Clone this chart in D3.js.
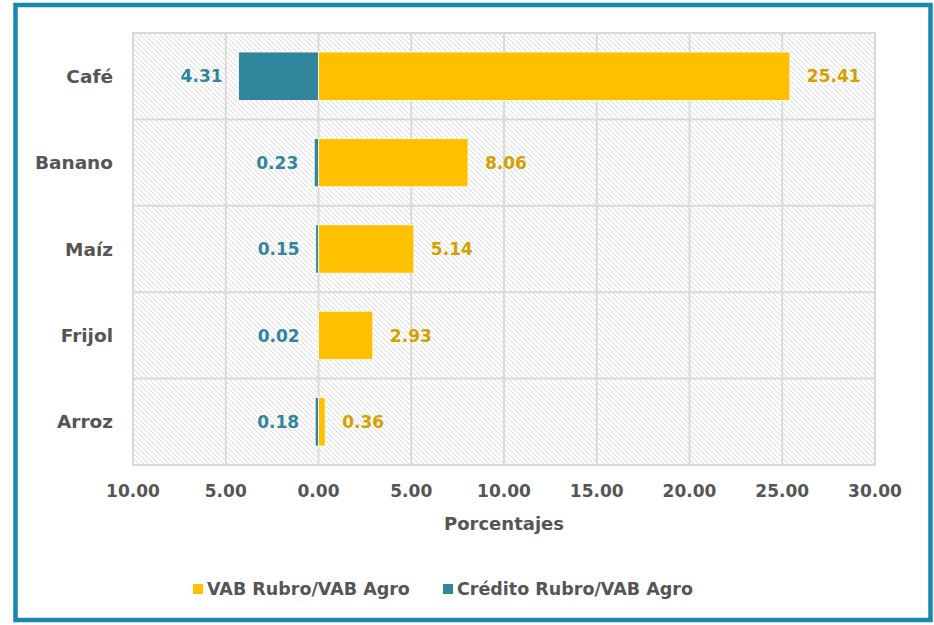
<!DOCTYPE html>
<html>
<head>
<meta charset="utf-8">
<script src="https://cdn.jsdelivr.net/npm/d3@7"></script>
<style>
  body { margin: 0; background: #fff; }
  text { font-family: "DejaVu Sans", Verdana, sans-serif; font-weight: bold; }
</style>
</head>
<body>
<div id="chart"></div>
<script>
const categories = ["Café", "Banano", "Maíz", "Frijol", "Arroz"];
const vabValues = [25.41, 8.06, 5.14, 2.93, 0.36];
const creditValues = [4.31, 0.23, 0.15, 0.02, 0.18];
const xTicks = [-10, -5, 0, 5, 10, 15, 20, 25, 30];
const seriesNames = ["VAB Rubro/VAB Agro", "Crédito Rubro/VAB Agro"];

const W = 934, H = 625;
const margin = {top: 33, right: 59, bottom: 160, left: 133};
const width = W - margin.left - margin.right;
const height = H - margin.top - margin.bottom;

const gold = "#ffc000", teal = "#31859c";
const goldText = "#d4a000", grey = "#555555";

const svg = d3.select("#chart").append("svg")
    .attr("width", W)
    .attr("height", H);

// hatch pattern for plot background
const defs = svg.append("defs");
defs.append("pattern")
    .attr("id", "hatch")
    .attr("patternUnits", "userSpaceOnUse")
    .attr("width", 5)
    .attr("height", 5)
    .append("path")
    .attr("d", "M-1,-1 L6,6 M-1,4 L1,6 M4,-1 L6,1")
    .attr("stroke", "#d6d6d6")
    .attr("stroke-width", 0.9);

// outer frame
svg.append("rect")
    .attr("x", 15.5).attr("y", 5)
    .attr("width", 915).attr("height", 615)
    .attr("fill", "none")
    .attr("stroke", "#1a87b0")
    .attr("stroke-width", 4.5);

const g = svg.append("g")
    .attr("transform", "translate(" + margin.left + "," + margin.top + ")");

const x = d3.scaleLinear().domain([-10, 30]).range([0, width]);
const y = d3.scaleBand().domain(categories).range([0, height]).paddingInner(0.44).paddingOuter(0.22);
const band = d3.scaleBand().domain(categories).range([0, height]);

g.append("rect")
    .attr("width", width).attr("height", height)
    .attr("fill", "url(#hatch)");

// grid
g.selectAll(".gx").data(xTicks).enter().append("line")
    .attr("x1", d => x(d)).attr("x2", d => x(d))
    .attr("y1", 0).attr("y2", height)
    .attr("stroke", "#d9d9d9").attr("stroke-width", 2);

g.selectAll(".gy").data(categories.slice(1)).enter().append("line")
    .attr("x1", 0).attr("x2", width)
    .attr("y1", d => band(d)).attr("y2", d => band(d))
    .attr("stroke", "#d9d9d9").attr("stroke-width", 2);

g.append("rect")
    .attr("width", width).attr("height", height)
    .attr("fill", "none")
    .attr("stroke", "#d9d9d9").attr("stroke-width", 2);

// bars
g.selectAll(".vab").data(categories).enter().append("rect")
    .attr("x", x(0))
    .attr("y", d => y(d))
    .attr("width", (d, i) => x(vabValues[i]) - x(0))
    .attr("height", y.bandwidth())
    .attr("fill", gold)
    .attr("stroke", "#fff").attr("stroke-width", 0.8);

g.selectAll(".cred").data(categories).enter().append("rect")
    .attr("x", (d, i) => x(-creditValues[i]))
    .attr("y", d => y(d))
    .attr("width", (d, i) => x(0) - x(-creditValues[i]))
    .attr("height", y.bandwidth())
    .attr("fill", teal)
    .attr("stroke", "#fff").attr("stroke-width", 0.8);

// data labels
g.selectAll(".lv").data(categories).enter().append("text")
    .attr("x", (d, i) => x(vabValues[i]) + 17)
    .attr("y", d => y(d) + y.bandwidth() / 2)
    .attr("dy", "0.36em")
    .attr("fill", goldText)
    .style("font-size", "17px")
    .text((d, i) => vabValues[i].toFixed(2));

g.selectAll(".lc").data(categories).enter().append("text")
    .attr("x", (d, i) => x(-Math.max(creditValues[i], 0.15)) - 16)
    .attr("y", d => y(d) + y.bandwidth() / 2)
    .attr("dy", "0.36em")
    .attr("text-anchor", "end")
    .attr("fill", teal)
    .style("font-size", "17px")
    .text((d, i) => creditValues[i].toFixed(2));

// category labels
g.selectAll(".cat").data(categories).enter().append("text")
    .attr("x", -20)
    .attr("y", d => band(d) + band.bandwidth() / 2)
    .attr("dy", "0.36em")
    .attr("text-anchor", "end")
    .attr("fill", grey)
    .style("font-size", "18.5px")
    .text(d => d);

// x axis tick labels
g.selectAll(".tick-label").data(xTicks).enter().append("text")
    .attr("x", d => x(d))
    .attr("y", height + 32)
    .attr("text-anchor", "middle")
    .attr("fill", grey)
    .style("font-size", "17px")
    .text(d => Math.abs(d).toFixed(2));

g.append("text")
    .attr("x", width / 2)
    .attr("y", height + 65)
    .attr("text-anchor", "middle")
    .attr("fill", grey)
    .style("font-size", "18px")
    .text("Porcentajes");

// legend
const legend = svg.append("g").attr("transform", "translate(193,589)");
const legendX = [0, 250];
const legendColors = [gold, teal];
seriesNames.forEach((name, i) => {
    legend.append("rect")
        .attr("x", legendX[i]).attr("y", -5)
        .attr("width", 10).attr("height", 10)
        .attr("fill", legendColors[i]);
    legend.append("text")
        .attr("x", legendX[i] + 14)
        .attr("y", 0)
        .attr("dy", "0.36em")
        .attr("fill", grey)
        .style("font-size", "17.5px")
        .text(name);
});
</script>
</body>
</html>
